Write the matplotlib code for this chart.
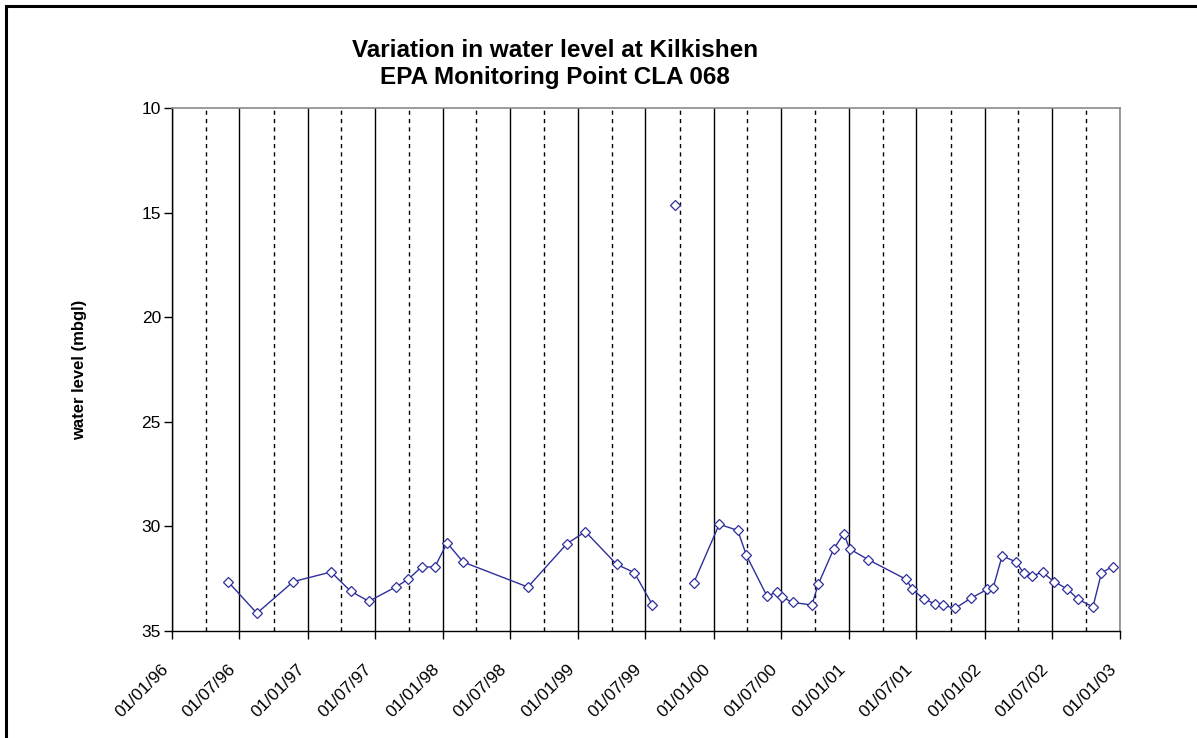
import numpy as np
import pandas as pd
import matplotlib
matplotlib.use("Agg")
import matplotlib.pyplot as plt
import matplotlib.dates as mdates
from matplotlib.patches import Rectangle
from matplotlib.transforms import ScaledTranslation

# sample dates and water levels (mbgl); None marks a break in the line
dates = [
    "1996-05-31", "1996-08-17", "1996-11-23", "1997-03-05", "1997-04-27",
    "1997-06-15", "1997-08-28", "1997-09-29", "1997-11-04", "1997-12-10",
    "1998-01-12", "1998-02-24", "1998-08-18", "1998-12-01", "1999-01-20",
    "1999-04-14", "1999-06-01", "1999-07-20", None, "1999-09-19", None,
    "1999-11-08", "2000-01-16", "2000-03-06", "2000-03-29", "2000-05-24",
    "2000-06-19", "2000-07-04", "2000-08-01", "2000-09-22", "2000-10-09",
    "2000-11-20", "2000-12-17", "2001-01-02", "2001-02-21", "2001-06-03",
    "2001-06-20", "2001-07-22", "2001-08-21", "2001-09-10", "2001-10-13",
    "2001-11-24", "2002-01-08", "2002-01-24", "2002-02-17", "2002-03-27",
    "2002-04-16", "2002-05-08", "2002-06-06", "2002-07-07", "2002-08-12",
    "2002-09-09", "2002-10-20", "2002-11-12", "2002-12-12",
]
levels = [
    32.64, 34.15, 32.64, 32.18, 33.10,
    33.58, 32.88, 32.53, 31.94, 31.94,
    30.79, 31.70, 32.90, 30.83, 30.25,
    31.81, 32.21, 33.76, None, 14.62, None,
    32.71, 29.90, 30.19, 31.37, 33.34,
    33.14, 33.39, 33.63, 33.76, 32.77,
    31.07, 30.35, 31.08, 31.59, 32.53,
    33.01, 33.49, 33.70, 33.76, 33.92,
    33.44, 33.01, 32.93, 31.41, 31.70,
    32.24, 32.36, 32.20, 32.64, 32.99,
    33.47, 33.85, 32.22, 31.92,
]

y_ticks = [10, 15, 20, 25, 30, 35]
title1 = "Variation in water level at Kilkishen"
title2 = "EPA Monitoring Point CLA 068"
ylabel = "water level (mbgl)"


def main() -> None:
    plt.rcParams["font.family"] = ["Liberation Sans", "DejaVu Sans"]

    x = pd.to_datetime(pd.Series(dates))
    y = np.array([np.nan if v is None else v for v in levels], dtype=float)

    W, H = 1197, 738
    fig = plt.figure(figsize=(W / 100, H / 100), dpi=100)

    # outer frame (only top and left edges visible)
    fig.patches.append(Rectangle((6 / W, -0.1), 1.2, 1 - 6 / H + 0.1,
                                 transform=fig.transFigure, fill=False,
                                 edgecolor="black", linewidth=2.2))

    ax = fig.add_axes([172 / W, (H - 631) / H, 948 / W, 523 / H])

    ax.plot(x, y, color="#2f2f9c", linewidth=1.0, marker="D", markersize=4.8,
            markerfacecolor="white", markeredgecolor="#2f2f9c",
            markeredgewidth=0.9, zorder=3)

    ax.set_xlim(pd.Timestamp("1996-01-01"), pd.Timestamp("2003-01-01"))
    ax.set_ylim(35, 10)
    ax.set_yticks(y_ticks)

    ax.xaxis.set_major_locator(mdates.MonthLocator(bymonth=[1, 7]))
    ax.xaxis.set_minor_locator(mdates.MonthLocator(bymonth=[4, 10]))
    ax.xaxis.set_major_formatter(mdates.DateFormatter("%d/%m/%y"))

    ax.grid(True, which="major", axis="x", color="black", linewidth=1.0,
            linestyle="-")
    ax.grid(True, which="minor", axis="x", color="black", linewidth=1.0,
            linestyle=(0, (3, 3)))
    ax.set_axisbelow(True)

    ax.tick_params(axis="both", which="major", direction="out", length=6,
                   width=1, labelsize=12.5, colors="black")
    ax.tick_params(axis="x", which="minor", length=0)
    ax.tick_params(axis="y", pad=2)
    ax.tick_params(axis="x", which="major", pad=20)
    shift = ScaledTranslation(-6 / 100, 0, fig.dpi_scale_trans)
    for lab in ax.xaxis.get_majorticklabels():
        lab.set_rotation(45)
        lab.set_ha("right")
        lab.set_va("center")
        lab.set_rotation_mode("anchor")
        lab.set_transform(lab.get_transform() + shift)

    for side in ("left", "bottom"):
        ax.spines[side].set_color("black")
        ax.spines[side].set_linewidth(1.0)
    for side in ("top", "right"):
        ax.spines[side].set_color("#8a8a8a")
        ax.spines[side].set_linewidth(1.2)

    fig.text(555 / W, 1 - 57 / H, title1, ha="center", va="baseline",
             fontsize=17.5, fontweight="bold")
    fig.text(555 / W, 1 - 84 / H, title2, ha="center", va="baseline",
             fontsize=17.5, fontweight="bold")
    fig.text(80 / W, 1 - 370 / H, ylabel, ha="center", va="center",
             rotation=90, fontsize=12, fontweight="bold")

    fig.savefig("out.png", dpi=100, facecolor="white")
    plt.close(fig)


if __name__ == "__main__":
    main()
